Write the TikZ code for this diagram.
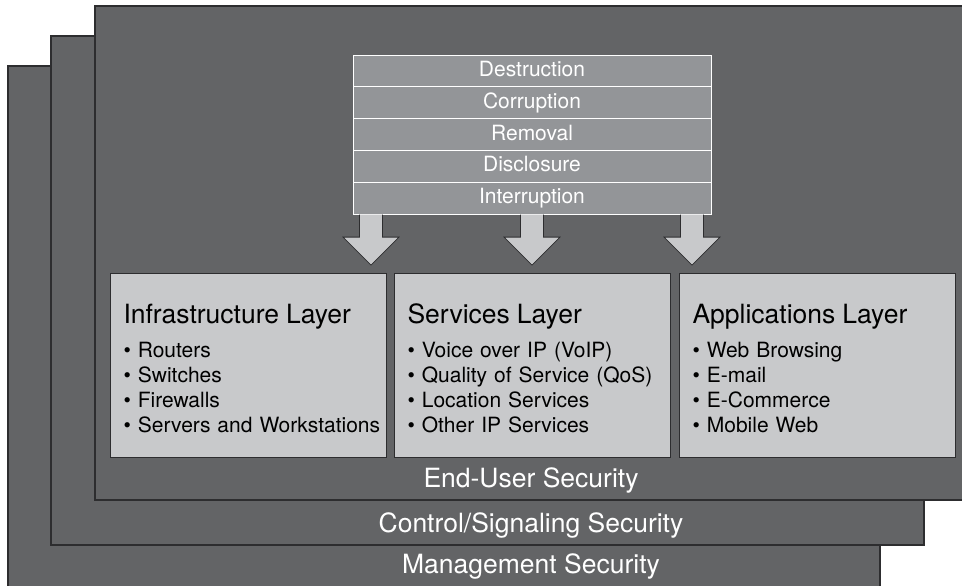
\documentclass[tikz,border=0pt]{standalone}
\usepackage{fontspec}
\setmainfont{TeX Gyre Heros}
\usetikzlibrary{positioning, calc}
\definecolor{plate}{RGB}{99,100,102}
\definecolor{edge}{RGB}{45,45,47}
\definecolor{rowgray}{RGB}{147,149,152}
\definecolor{boxgray}{RGB}{200,201,203}
\newcommand{\layerhead}[1]{{\fontsize{26.5}{30}\selectfont\rule{0pt}{26pt}#1}\\[9pt]}

\begin{document}
\begin{tikzpicture}[x=1pt, y=-1pt,
  plate/.style={fill=plate, draw=edge, line width=1.2pt},
  platelabel/.style={text=white, font=\fontsize{26.5}{30}\selectfont, anchor=base},
  threat/.style={fill=rowgray, draw=white, line width=1pt, minimum width=358pt, minimum height=31.8pt,
    inner sep=0pt, outer sep=0pt, text height=15pt, text depth=4pt, text=white, font=\fontsize{21}{25}\selectfont},
  layer/.style={fill=boxgray, draw=edge, line width=1pt, minimum width=276pt, minimum height=184pt,
    text width=270pt, align=left, inner sep=0pt, font=\fontsize{21}{25}\selectfont,
    execute at begin node={\leftskip=10pt}},
  blockarrow/.style={fill=boxgray, draw=edge, line width=0.8pt, line join=miter}]
  \useasboundingbox (0,0) rectangle (962,586);

  % Security planes, back to front
  \draw[plate] (8,66) rectangle (880,592);
  \draw[plate] (51,36) rectangle (924,545);
  \draw[plate] (95,6) rectangle (966,500);
  \node[platelabel] (mgmt) at (531,573) {Management Security};
  \node[platelabel] (ctrl) at (531,532) {Control/Signaling Security};
  \node[platelabel] (enduser) at (531,487) {End-User Security};

  % Threats
  \node[threat] (destr) at (532,71) {Destruction};
  \node[threat, below=0pt of destr] (corr) {Corruption};
  \node[threat, below=0pt of corr] (remov) {Removal};
  \node[threat, below=0pt of remov] (discl) {Disclosure};
  \node[threat, below=0pt of discl] (interr) {Interruption};

  % Layers
  \node[layer, anchor=north west] (infra) at (110,273) {\layerhead{Infrastructure Layer}
    \textbullet{} Routers\\ \textbullet{} Switches\\ \textbullet{} Firewalls\\ \textbullet{} Servers and Workstations};
  \node[layer, right=7pt of infra] (serv) {\layerhead{Services Layer}
    \textbullet{} Voice over IP (VoIP)\\ \textbullet{} Quality of Service (QoS)\\ \textbullet{} Location Services\\ \textbullet{} Other IP Services};
  \node[layer, right=8pt of serv] (apps) {\layerhead{Applications Layer}
    \textbullet{} Web Browsing\\ \textbullet{} E-mail\\ \textbullet{} E-Commerce\\ \textbullet{} Mobile Web};

  % Threats act on every layer
  \foreach \dx in {-161,0,160}
    \draw[blockarrow] ($(interr.south)+(\dx-11.5,0.6)$) -- ++(0,22.4) -- ++(-16.5,0)
      -- ++(28,28) -- ++(28,-28) -- ++(-16.5,0) -- ++(0,-22.4);
\end{tikzpicture}
\end{document}
